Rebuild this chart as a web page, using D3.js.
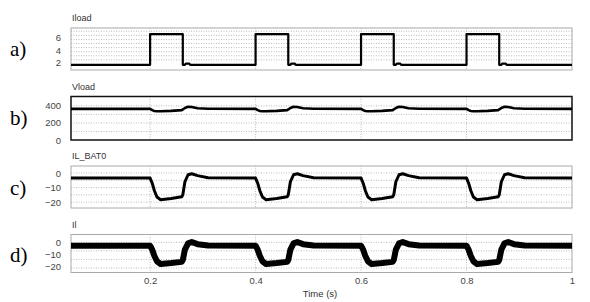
<!DOCTYPE html>
<html>
<head>
<meta charset="utf-8">
<script src="https://cdn.jsdelivr.net/npm/d3@7"></script>
<style>
  body { margin: 0; background: #fff; }
  .tick text { font-family: "Liberation Sans", Arial, sans-serif; font-size: 9.5px; fill: #444; }
</style>
</head>
<body>
<div id="chart"></div>
<script>
// time ticks on the shared x axis
var timeTicks = [0.2, 0.4, 0.6, 0.8, 1];

// Iload: square pulse
var iloadTime = [0.05,
  0.2, 0.2, 0.262, 0.262, 0.266, 0.268, 0.274, 0.276,
  0.4, 0.4, 0.462, 0.462, 0.466, 0.468, 0.474, 0.476,
  0.6, 0.6, 0.662, 0.662, 0.666, 0.668, 0.674, 0.676,
  0.8, 0.8, 0.862, 0.862, 0.866, 0.868, 0.874, 0.876,
  1];
var iloadValues = [1.6,
  1.6, 6.6, 6.6, 1.6, 1.6, 1.8, 1.8, 1.6,
  1.6, 6.6, 6.6, 1.6, 1.6, 1.8, 1.8, 1.6,
  1.6, 6.6, 6.6, 1.6, 1.6, 1.8, 1.8, 1.6,
  1.6, 6.6, 6.6, 1.6, 1.6, 1.8, 1.8, 1.6,
  1.6];

// shared sample times for Vload, IL_BAT0, Il
var time = [0.05,
  0.2, 0.204, 0.208, 0.213, 0.22, 0.24, 0.26, 0.262, 0.266, 0.272, 0.279, 0.29, 0.31,
  0.4, 0.404, 0.408, 0.413, 0.42, 0.44, 0.46, 0.462, 0.466, 0.472, 0.479, 0.49, 0.51,
  0.6, 0.604, 0.608, 0.613, 0.62, 0.64, 0.66, 0.662, 0.666, 0.672, 0.679, 0.69, 0.71,
  0.8, 0.804, 0.808, 0.813, 0.82, 0.84, 0.86, 0.862, 0.866, 0.872, 0.879, 0.89, 0.91,
  1];
var vloadValues = [365,
  365, 350, 341, 337, 337, 342, 350, 358, 376, 389, 386, 372, 366,
  365, 350, 341, 337, 337, 342, 350, 358, 376, 389, 386, 372, 366,
  365, 350, 341, 337, 337, 342, 350, 358, 376, 389, 386, 372, 366,
  365, 350, 341, 337, 337, 342, 350, 358, 376, 389, 386, 372, 366,
  365];
var ilBatValues = [-3.5,
  -3.5, -7, -12, -16.5, -18.3, -17.5, -16.3, -15, -6, -1.2, -0.5, -1.8, -3.2,
  -3.5, -7, -12, -16.5, -18.3, -17.5, -16.3, -15, -6, -1.2, -0.5, -1.8, -3.2,
  -3.5, -7, -12, -16.5, -18.3, -17.5, -16.3, -15, -6, -1.2, -0.5, -1.8, -3.2,
  -3.5, -7, -12, -16.5, -18.3, -17.5, -16.3, -15, -6, -1.2, -0.5, -1.8, -3.2,
  -3.5];
var ilValues = [-2.8,
  -2.8, -6, -11, -15.5, -17.8, -17, -16, -14.5, -6, -0.8, 0.3, -1.5, -2.6,
  -2.8, -6, -11, -15.5, -17.8, -17, -16, -14.5, -6, -0.8, 0.3, -1.5, -2.6,
  -2.8, -6, -11, -15.5, -17.8, -17, -16, -14.5, -6, -0.8, 0.3, -1.5, -2.6,
  -2.8, -6, -11, -15.5, -17.8, -17, -16, -14.5, -6, -0.8, 0.3, -1.5, -2.6,
  -2.8];

var panelLabels = ["a)", "b)", "c)", "d)"];
var panelTitles = ["Iload", "Vload", "IL_BAT0", "Il"];
var panelTicks = [[2, 4, 6], [0, 200, 400], [-20, -10, 0], [-20, -10, 0]];

var W = 590, H = 302;
var svg = d3.select("#chart").append("svg")
  .attr("width", W).attr("height", H);

var x = d3.scaleLinear().domain([0.05, 1]).range([71, 572]);

var panels = [
  {top: 28, bottom: 70, domain: [0.75, 7.6], grid: [2.4, 3.07, 3.73, 4.4, 5.07, 5.73, 6.4, 7.07],
   t: iloadTime, v: iloadValues, lw: 2.2, border: "#aaa", labelY: 56},
  {top: 96.5, bottom: 140, domain: [0, 510], grid: [100, 200, 300, 400],
   t: time, v: vloadValues, lw: 2.6, border: "#111", labelY: 125},
  {top: 166, bottom: 208, domain: [-24, 4.8], grid: [-20, -15, -10, -5, 0],
   t: time, v: ilBatValues, lw: 3, border: "#aaa", labelY: 195},
  {top: 234.5, bottom: 272.5, domain: [-24.7, 6.4], grid: [-21, -14, -7, 0],
   t: time, v: ilValues, lw: 6, border: "#aaa", labelY: 262}
];

panels.forEach(function(p, i) {
  var y = d3.scaleLinear().domain(p.domain).range([p.bottom, p.top]);
  var g = svg.append("g");

  // grid
  g.selectAll(".hg").data(p.grid).enter().append("line")
    .attr("x1", x.range()[0]).attr("x2", x.range()[1])
    .attr("y1", function(d) { return y(d); }).attr("y2", function(d) { return y(d); })
    .attr("stroke", "#bbb").attr("stroke-width", 1).attr("stroke-dasharray", "1,1.5");
  g.selectAll(".vg").data(timeTicks.slice(0, -1)).enter().append("line")
    .attr("x1", function(d) { return x(d); }).attr("x2", function(d) { return x(d); })
    .attr("y1", p.top).attr("y2", p.bottom)
    .attr("stroke", "#bbb").attr("stroke-width", 1).attr("stroke-dasharray", "1,1.5");

  // box
  g.append("rect")
    .attr("x", x.range()[0]).attr("y", p.top)
    .attr("width", x.range()[1] - x.range()[0]).attr("height", p.bottom - p.top)
    .attr("fill", "none").attr("stroke", p.border)
    .attr("stroke-width", i == 1 ? 1.5 : 1);

  // y axis labels
  var ax = g.append("g")
    .attr("transform", "translate(" + (x.range()[0] - 9) + ",0)")
    .call(d3.axisLeft(y).tickValues(panelTicks[i]).tickSize(0).tickPadding(1)
      .tickFormat(d3.format("~g")));
  ax.select(".domain").remove();

  // signal
  var line = d3.line()
    .x(function(d, k) { return x(p.t[k]); })
    .y(function(d) { return y(d); });
  g.append("path")
    .datum(p.v)
    .attr("d", line)
    .attr("fill", "none").attr("stroke", "#000")
    .attr("stroke-width", p.lw).attr("stroke-linejoin", "round");

  // title
  g.append("text")
    .attr("x", 72).attr("y", p.top - 7)
    .style("font-family", "Liberation Sans, Arial, sans-serif")
    .style("font-size", "9px").style("fill", "#333")
    .text(panelTitles[i]);

  // panel letter
  g.append("text")
    .attr("x", 10).attr("y", p.labelY)
    .style("font-family", "Liberation Serif, serif")
    .style("font-size", "21px").style("fill", "#000")
    .text(panelLabels[i]);
});

// x axis labels
var xa = svg.append("g")
  .attr("transform", "translate(0,277)")
  .call(d3.axisBottom(x).tickValues(timeTicks).tickSize(0).tickPadding(0)
    .tickFormat(d3.format("~g")));
xa.select(".domain").remove();

svg.append("text")
  .attr("x", 320).attr("y", 297)
  .attr("text-anchor", "middle")
  .style("font-family", "Liberation Sans, Arial, sans-serif")
  .style("font-size", "9.5px").style("fill", "#333")
  .text("Time (s)");
</script>
</body>
</html>
